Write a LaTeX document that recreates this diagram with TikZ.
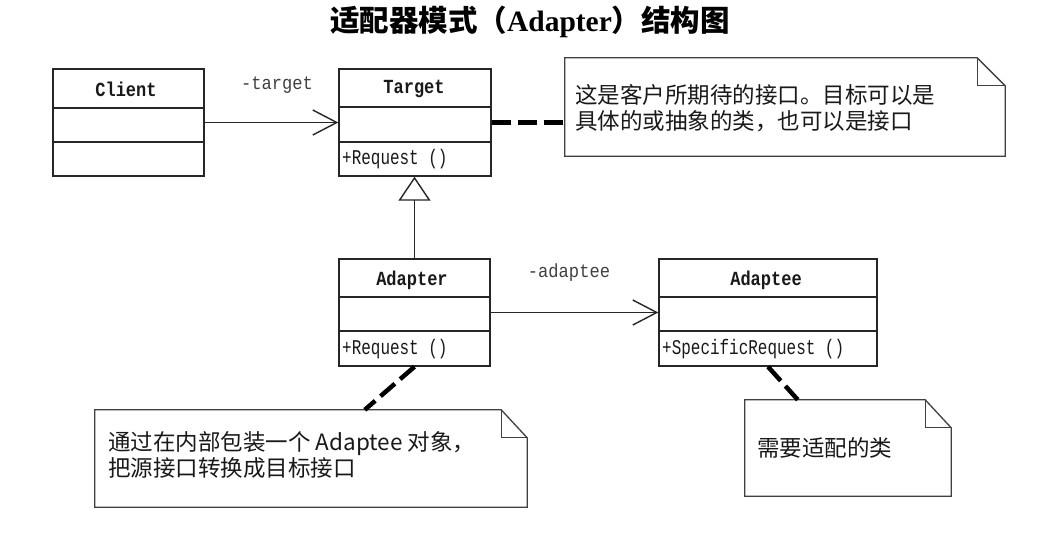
\documentclass[tikz,border=0pt]{standalone}
\usepackage{fontspec}
\setmainfont{Liberation Serif}
\newfontfamily\cjk{Noto Sans CJK SC}
\newfontfamily\monoM[FakeStretch=0.76]{Liberation Mono}
\newfontfamily\monoB[FakeStretch=0.85]{Liberation Mono}
\newfontfamily\monoR[FakeStretch=0.9]{Liberation Mono}
\usetikzlibrary{arrows.meta,calc}
\begin{document}
\begin{tikzpicture}[x=1pt,y=-1pt,
  classbox/.style={draw=black!85,line width=1.4pt,inner sep=0pt,rectangle},
  divider/.style={draw=black!85,line width=1.2pt},
  cname/.style={font=\monoB\bfseries\fontsize{20}{20}\selectfont,inner sep=0pt,text=black!90},
  member/.style={font=\monoM\fontsize{21}{21}\selectfont,inner sep=0pt,anchor=west,text=black!90},
  role/.style={font=\monoR\fontsize{19}{19}\selectfont,inner sep=0pt,text=black!75},
  notebox/.style={inner sep=0pt,rectangle},
  noteline/.style={draw=black!75,line width=1.3pt,line join=miter},
  notetext/.style={font=\cjk\fontsize{22.5}{26}\selectfont,inner sep=0pt,anchor=west,align=left,text=black!90},
  assoc/.style={draw=black!85,line width=1.4pt,-{Straight Barb[length=24pt,width=25pt,line width=1.4pt]}},
  gen/.style={draw=black!85,line width=1.4pt,-{Triangle[open,length=24pt,width=32pt,line width=1.4pt,fill=white]}},
  anchorline/.style={draw=black,line width=4.5pt,dash pattern=on 19pt off 7pt}
]
\useasboundingbox (0,0) rectangle (1052,557);
\fill[white] (0,0) rectangle (1052,557);

% title
\node[inner sep=0pt] (title) at (530,22) {{\cjk\bfseries\fontsize{29.5}{29.5}\selectfont 适配器模式（}{\bfseries\fontsize{29.5}{29.5}\selectfont Adapter}{\cjk\bfseries\fontsize{29.5}{29.5}\selectfont ）结构图}};

% Client
\node[classbox,minimum width=151pt,minimum height=107pt] (client) at (128.5,122.5) {};
\draw[divider] (client.west |- 0,108) -- (client.east |- 0,108);
\draw[divider] (client.west |- 0,142) -- (client.east |- 0,142);
\node[cname] (clientname) at (126,89) {Client};

% Target
\node[classbox,minimum width=152pt,minimum height=107pt] (target) at (415,122.5) {};
\draw[divider] (target.west |- 0,107) -- (target.east |- 0,107);
\draw[divider] (target.west |- 0,142) -- (target.east |- 0,142);
\node[cname] (targetname) at (414,89) {Target};
\node[member] (targetop) at (342,159) {+Request ()};

% Adapter
\node[classbox,minimum width=151pt,minimum height=107pt] (adapter) at (414.5,312.5) {};
\draw[divider] (adapter.west |- 0,297) -- (adapter.east |- 0,297);
\draw[divider] (adapter.west |- 0,331) -- (adapter.east |- 0,331);
\node[cname] (adaptername) at (412,280) {Adapter};
\node[member] (adapterop) at (342,349) {+Request ()};

% Adaptee
\node[classbox,minimum width=218pt,minimum height=107pt] (adaptee) at (768,312.5) {};
\draw[divider] (adaptee.west |- 0,297) -- (adaptee.east |- 0,297);
\draw[divider] (adaptee.west |- 0,331) -- (adaptee.east |- 0,331);
\node[cname] (adapteename) at (766,280) {Adaptee};
\node[member] (adapteeop) at (662,349) {+SpecificRequest ()};

% notes
\node[notebox,minimum width=440pt,minimum height=98pt] (note1) at (785,107) {};
\draw[noteline] (note1.north west) -- ($(note1.north east)+(-28,0)$) -- ($(note1.north east)+(0,28)$) -- (note1.south east) -- (note1.south west) -- cycle;
\draw[noteline] ($(note1.north east)+(-28,0)$) -- ($(note1.north east)+(-28,28)$) -- ($(note1.north east)+(0,28)$);
\node[notetext] (note1text) at (575,108) {这是客户所期待的接口。目标可以是\\具体的或抽象的类，也可以是接口};

\node[notebox,minimum width=432pt,minimum height=97pt] (note2) at (311,458.5) {};
\draw[noteline] (note2.north west) -- ($(note2.north east)+(-26,0)$) -- ($(note2.north east)+(0,28)$) -- (note2.south east) -- (note2.south west) -- cycle;
\draw[noteline] ($(note2.north east)+(-26,0)$) -- ($(note2.north east)+(-26,28)$) -- ($(note2.north east)+(0,28)$);
\node[notetext] (note2text) at (108,455) {通过在内部包装一个 Adaptee 对象，\\把源接口转换成目标接口};

\node[notebox,minimum width=206pt,minimum height=96pt] (note3) at (848,448) {};
\draw[noteline] (note3.north west) -- ($(note3.north east)+(-26,0)$) -- ($(note3.north east)+(0,28)$) -- (note3.south east) -- (note3.south west) -- cycle;
\draw[noteline] ($(note3.north east)+(-26,0)$) -- ($(note3.north east)+(-26,28)$) -- ($(note3.north east)+(0,28)$);
\node[notetext] (note3text) at (757,448) {需要适配的类};

% connectors
\draw[assoc] (client.east) -- (target.west);
\node[role] (targetrole) at (277,85) {-target};
\draw[gen] (adapter.north) -- (adapter.north |- target.south);
\draw[assoc] (adapter.east) -- (adaptee.west);
\node[role] (adapteerole) at (569,273) {-adaptee};

\draw[anchorline] (target.east) -- (note1.west |- target.east);
\draw[anchorline] (adapter.south) -- ($(note2.north west)+(270,0)$);
\draw[anchorline] (adaptee.south) -- ($(note3.north west)+(53,0)$);
\end{tikzpicture}
\end{document}
